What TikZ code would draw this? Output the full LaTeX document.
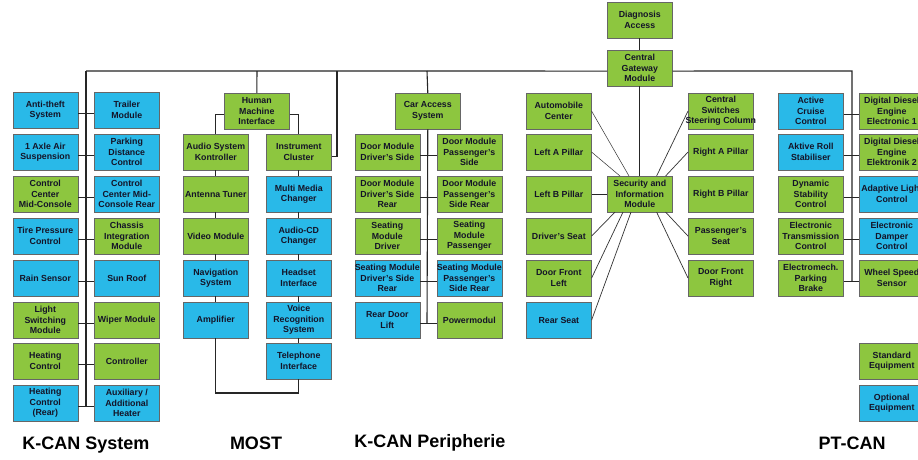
\documentclass[tikz,border=0pt]{standalone}
\usepackage{fontspec}
\setmainfont{Liberation Sans}
\usetikzlibrary{calc}
\definecolor{gr}{RGB}{141,198,63}
\definecolor{bl}{RGB}{41,185,232}
\definecolor{txt}{RGB}{20,20,40}
\begin{document}
\begin{tikzpicture}[x=1pt,y=-1pt,
  box/.style={draw=black!60, line width=0.6pt, minimum width=65pt, minimum height=35.5pt,
    inner sep=0pt, align=center, anchor=north west, text=txt,
    font=\bfseries\fontsize{8.8}{10.6}\selectfont},
  g/.style={box, fill=gr}, b/.style={box, fill=bl},
  bus/.style={line width=1.1pt, draw=black!85},
  spoke/.style={line width=0.7pt, draw=black!80},
  lbl/.style={font=\bfseries\fontsize{18}{20}\selectfont, text=black}]
\useasboundingbox (0,0) rectangle (918,459);
\clip (0,0) rectangle (918,459);
\fill[white] (0,0) rectangle (918,459);

% ---------- K-CAN System ----------
\node[b] (ks1) at (12.5,92)  {Anti-theft\\System};
\node[b] (ks2) at (12.5,134) {1 Axle Air\\Suspension};
\node[g] (ks3) at (12.5,176) {Control\\Center\\Mid-Console};
\node[b] (ks4) at (12.5,218) {Tire Pressure\\Control};
\node[b] (ks5) at (12.5,260) {Rain Sensor};
\node[g] (ks6) at (12.5,302) {Light\\Switching\\Module};
\node[g] (ks7) at (12.5,343) {Heating\\Control};
\node[b] (ks8) at (12.5,385) {Heating\\Control\\(Rear)};
\node[b] (kr1) at (94,92)  {Trailer\\Module};
\node[b] (kr2) at (94,134) {Parking\\Distance\\Control};
\node[b] (kr3) at (94,176) {Control\\Center Mid-\\Console Rear};
\node[g] (kr4) at (94,218) {Chassis\\Integration\\Module};
\node[b] (kr5) at (94,260) {Sun Roof};
\node[g] (kr6) at (94,302) {Wiper Module};
\node[g] (kr7) at (94,343) {Controller};
\node[b] (kr8) at (94,385) {Auxiliary /\\Additional\\Heater};
\coordinate (kb) at (86,71);
\coordinate (kend) at (86,406);
\draw[bus] (kb) -- (kend);
\foreach \i in {1,...,8}{
  \draw[bus] ([yshift=-3pt]ks\i.east) -- ([yshift=-3pt]kr\i.west);
}

% ---------- MOST ----------
\node[g] (hmi) at (224,93) {Human\\Machine\\Interface};
\node[g] (m1) at (183,134) {Audio System\\Kontroller};
\node[g] (m2) at (183,176) {Antenna Tuner};
\node[g] (m3) at (183,218) {Video Module};
\node[b] (m4) at (183,260) {Navigation\\System};
\node[b] (m5) at (183,302) {Amplifier};
\node[g] (n1) at (266,134) {Instrument\\Cluster};
\node[b] (n2) at (266,176) {Multi Media\\Changer};
\node[b] (n3) at (266,218) {Audio-CD\\Changer};
\node[b] (n4) at (266,260) {Headset\\Interface};
\node[b] (n5) at (266,302) {Voice\\Recognition\\System};
\node[b] (n6) at (266,343) {Telephone\\Interface};
\coordinate (hb) at (257,71);
\coordinate (ib) at (337,71);
\coordinate (mlow) at (257,393);
\draw[bus] (hb) -- (hmi.north);
\draw[bus] ([yshift=-3pt]hmi.west) -| (m1.north);
\draw[bus] ([yshift=-3pt]hmi.east) -| (n1.north);
\draw[bus] (m1.south) -- (m2.north) (m2.south) -- (m3.north) (m3.south) -- (m4.north) (m4.south) -- (m5.north);
\draw[bus] (n1.south) -- (n2.north) (n2.south) -- (n3.north) (n3.south) -- (n4.north) (n4.south) -- (n5.north) (n5.south) -- (n6.north);
\draw[bus] (m5.south) |- (mlow) -| (n6.south);
\draw[bus] (ib) |- ([yshift=-4pt]n1.east);

% ---------- K-CAN Peripherie ----------
\node[g] (cas) at (395,93) {Car Access\\System};
\node[g] (c1) at (354.5,134) {Door Module\\Driver's Side};
\node[g] (c2) at (354.5,176) {Door Module\\Driver's Side\\Rear};
\node[g] (c3) at (354.5,218) {Seating\\Module\\Driver};
\node[b] (c4) at (354.5,260) {\makebox[60pt]{Seating Module}\\Driver's Side\\Rear};
\node[b] (c5) at (354.5,302) {Rear Door\\Lift};
\node[g] (d1) at (436.5,134) {Door Module\\Passenger's\\Side};
\node[g] (d2) at (436.5,176) {Door Module\\Passenger's\\Side Rear};
\node[g] (d3) at (436.5,218) {Seating\\Module\\Passenger};
\node[b] (d4) at (436.5,260) {\makebox[60pt]{Seating Module}\\Passenger's\\Side Rear};
\node[g] (d5) at (436.5,302) {Powermodul};
\coordinate (cb) at (427,71);
\coordinate (cend) at (427,323);
\draw[bus] (cb) -- (cas.north);
\draw[bus] (cas.south) -- (cend);
\foreach \i in {1,...,5}{
  \draw[bus] ([yshift=-3.5pt]c\i.east) -- ([yshift=-3.5pt]d\i.west);
}

% ---------- Gateway / Security ----------
\node[g] (diag) at (607,2) {Diagnosis\\Access};
\node[g] (gw) at (607,50) {Central\\Gateway\\Module};
\node[g] (sim) at (607,176) {Security and\\Information\\Module};
\node[g] (s1) at (526,93)  {Automobile\\Center};
\node[g] (s2) at (526,134) {Left A Pillar};
\node[g] (s3) at (526,176) {Left B Pillar};
\node[g] (s4) at (526,218) {Driver's Seat};
\node[g] (s5) at (526,260) {Door Front\\Left};
\node[b] (s6) at (526,302) {Rear Seat};
\node[g] (t1) at (688,93)  {Central\\Switches\\\makebox[60pt]{Steering Column}};
\node[g] (t2) at (688,134) {Right A Pillar};
\node[g] (t3) at (688,176) {Right B Pillar};
\node[g] (t4) at (688,218) {Passenger's\\Seat};
\node[g] (t5) at (688,260) {Door Front\\Right};
\draw[bus] (diag.south) -- (gw.north);
\draw[bus] (gw.south) -- (sim.north);
\draw[bus] (kb) -- ([yshift=-3pt]gw.west);
\coordinate (pb) at (852,71);
\coordinate (pend) at (852,281);
\draw[bus] ([yshift=-3pt]gw.east) -- (pb) -- (pend);
\draw[bus] (s3.east) -- (sim.west);
\draw[spoke, line width=0.5pt] (s1.east) -- ([xshift=22pt]sim.north west);
\draw[spoke, line width=0.5pt] (s2.east) -- ([xshift=13pt]sim.north west);
\draw[spoke] (t1.west) -- ([xshift=-16pt]sim.north east);
\draw[spoke] (t2.west) -- ([xshift=-7pt]sim.north east);
\draw[spoke] (s4.east) -- ([xshift=8pt]sim.south west);
\draw[spoke] (s5.east) -- ([xshift=16pt]sim.south west);
\draw[spoke] (s6.east) -- ([xshift=24pt]sim.south west);
\draw[spoke] (t4.west) -- ([xshift=-7pt]sim.south east);
\draw[spoke] (t5.west) -- ([xshift=-16pt]sim.south east);

% ---------- PT-CAN ----------
\node[b] (p1) at (778,93)  {Active\\Cruise\\Control};
\node[b] (p2) at (778,134) {Aktive Roll\\Stabiliser};
\node[g] (p3) at (778,176) {Dynamic\\Stability\\Control};
\node[g] (p4) at (778,218) {Electronic\\Transmission\\Control};
\node[g] (p5) at (778,260) {Electromech.\\Parking\\Brake};
\node[g] (q1) at (859,93)  {Digital Diesel\\Engine\\Electronic 1};
\node[g] (q2) at (859,134) {Digital Diesel\\Engine\\Elektronik 2};
\node[b] (q3) at (859,176) {Adaptive Light\\Control};
\node[b] (q4) at (859,218) {Electronic\\Damper\\Control};
\node[g] (q5) at (859,260) {Wheel Speed\\Sensor};
\foreach \i in {1,...,5}{
  \draw[bus] ([yshift=-3pt]p\i.east) -- ([yshift=-3pt]q\i.west);
}
\node[g] (le1) at (859,343) {Standard\\Equipment};
\node[b] (le2) at (859,385) {Optional\\Equipment};

% ---------- Labels ----------
\node[lbl] (l1) at (86,445) {K-CAN System};
\node[lbl] (l2) at (256,443) {MOST};
\node[lbl] (l3) at (430,443) {K-CAN Peripherie};
\node[lbl] (l4) at (852,443) {PT-CAN};
\end{tikzpicture}
\end{document}
